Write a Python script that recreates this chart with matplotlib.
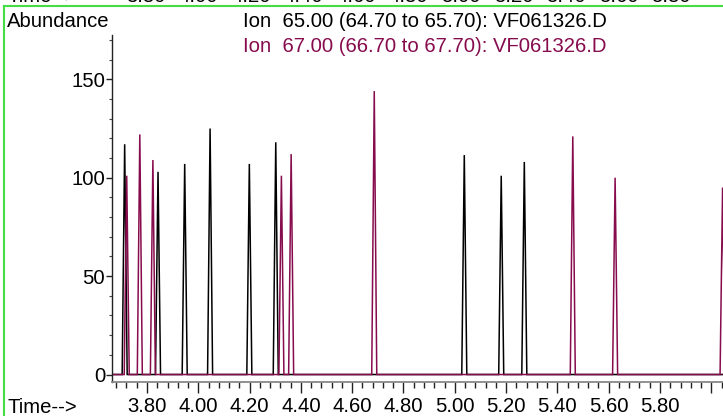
import matplotlib as mpl
mpl.use('Agg')
import matplotlib.pyplot as plt
from matplotlib.lines import Line2D
from matplotlib.ticker import MultipleLocator, FixedLocator
import numpy as np

plt.rcParams['font.family'] = ['Liberation Sans', 'DejaVu Sans']

# peak apexes (time in min, abundance)
ion65_times = [3.713, 3.843, 3.947, 4.046, 4.199, 4.302, 5.037, 5.181, 5.271]
ion65_abund = [117, 103, 107, 125, 107, 118, 111.5, 101, 108]

ion67_times = [3.721, 3.772, 3.823, 4.324, 4.362, 4.686, 5.460, 5.625, 6.044]
ion67_abund = [101, 122, 109, 101, 112, 144, 121, 100, 95]

x_ticks = [3.80, 4.00, 4.20, 4.40, 4.60, 4.80, 5.00, 5.20, 5.40, 5.60, 5.80, 6.00]
x_labels = ['3.80', '4.00', '4.20', '4.40', '4.60', '4.80', '5.00', '5.20',
            '5.40', '5.60', '5.80', '']
y_ticks = [0, 50, 100, 150]

label65 = 'Ion  65.00 (64.70 to 65.70): VF061326.D'
label67 = 'Ion  67.00 (66.70 to 67.70): VF061326.D'

C65 = 'black'
C67 = '#870c4e'
GREEN = '#44dd44'
FS = 14.6

W, H = 723, 416
XLIM = (3.6636, 6.0456)
YLIM = (-3.8, 172.5)
HALF = 0.0098  # half width of a peak at its base


def trace(times, abund):
    t = [XLIM[0]]
    a = [0]
    for c, h in zip(times, abund):
        t += [c - HALF, c, c + HALF]
        a += [0, h, 0]
    t.append(XLIM[1])
    a.append(0)
    return np.array(t), np.array(a)


def main():
    fig = plt.figure(figsize=(W / 100, H / 100), dpi=100)
    ax = fig.add_axes([112 / W, 34 / H, (W - 112) / W, (382 - 35) / H])

    t, a = trace(ion65_times, ion65_abund)
    ax.plot(t, a, color=C65, lw=1.1, solid_joinstyle='miter')
    t, a = trace(ion67_times, ion67_abund)
    ax.plot(t, a, color=C67, lw=1.1, solid_joinstyle='miter')

    ax.set_xlim(*XLIM)
    ax.set_ylim(*YLIM)

    ax.spines['top'].set_visible(False)
    ax.spines['right'].set_visible(False)
    ax.spines['left'].set_color('#222222')
    ax.spines['bottom'].set_color('#888888')
    ax.spines['left'].set_linewidth(1.0)
    ax.spines['bottom'].set_linewidth(1.3)

    ax.xaxis.set_major_locator(FixedLocator(x_ticks))
    ax.set_xticklabels(x_labels)
    ax.xaxis.set_minor_locator(MultipleLocator(0.04))
    ax.yaxis.set_major_locator(FixedLocator(y_ticks))
    ax.yaxis.set_minor_locator(MultipleLocator(10))

    ax.tick_params(axis='x', which='major', length=8, width=1.0, color='#222222',
                   labelsize=FS, pad=3)
    ax.tick_params(axis='x', which='minor', length=4.5, width=1.0, color='#222222')
    ax.tick_params(axis='y', which='major', length=4, width=1.0, color='#222222',
                   labelsize=FS, pad=1)
    ax.tick_params(axis='y', which='minor', length=2, width=0.8, color='#444444')

    def fx(px):
        return px / W

    def fy(py):
        return 1 - py / H

    fig.text(fx(7), fy(27), 'Abundance', fontsize=FS, va='baseline')
    fig.text(fx(243), fy(27), label65, fontsize=FS, va='baseline', color=C65)
    fig.text(fx(243), fy(52), label67, fontsize=FS, va='baseline', color=C67)
    fig.text(fx(7), fy(413), 'Time-->', fontsize=FS, va='baseline')

    # bottom of the previous panel, cut off at the top edge
    fig.text(fx(7), fy(2.5), 'Time-->', fontsize=FS, va='baseline')
    for i, lab in enumerate(x_labels[:-1]):
        fig.text(fx(146 + 52.5 * i), fy(2.5), lab, fontsize=FS, va='baseline', ha='center')

    fig.add_artist(Line2D([fx(4), 1.0], [fy(6), fy(6)], color=GREEN, lw=1.5))
    fig.add_artist(Line2D([fx(4), fx(4)], [fy(6), 0.0], color=GREEN, lw=1.5))

    plt.savefig('out.png', dpi=100)


if __name__ == '__main__':
    main()
